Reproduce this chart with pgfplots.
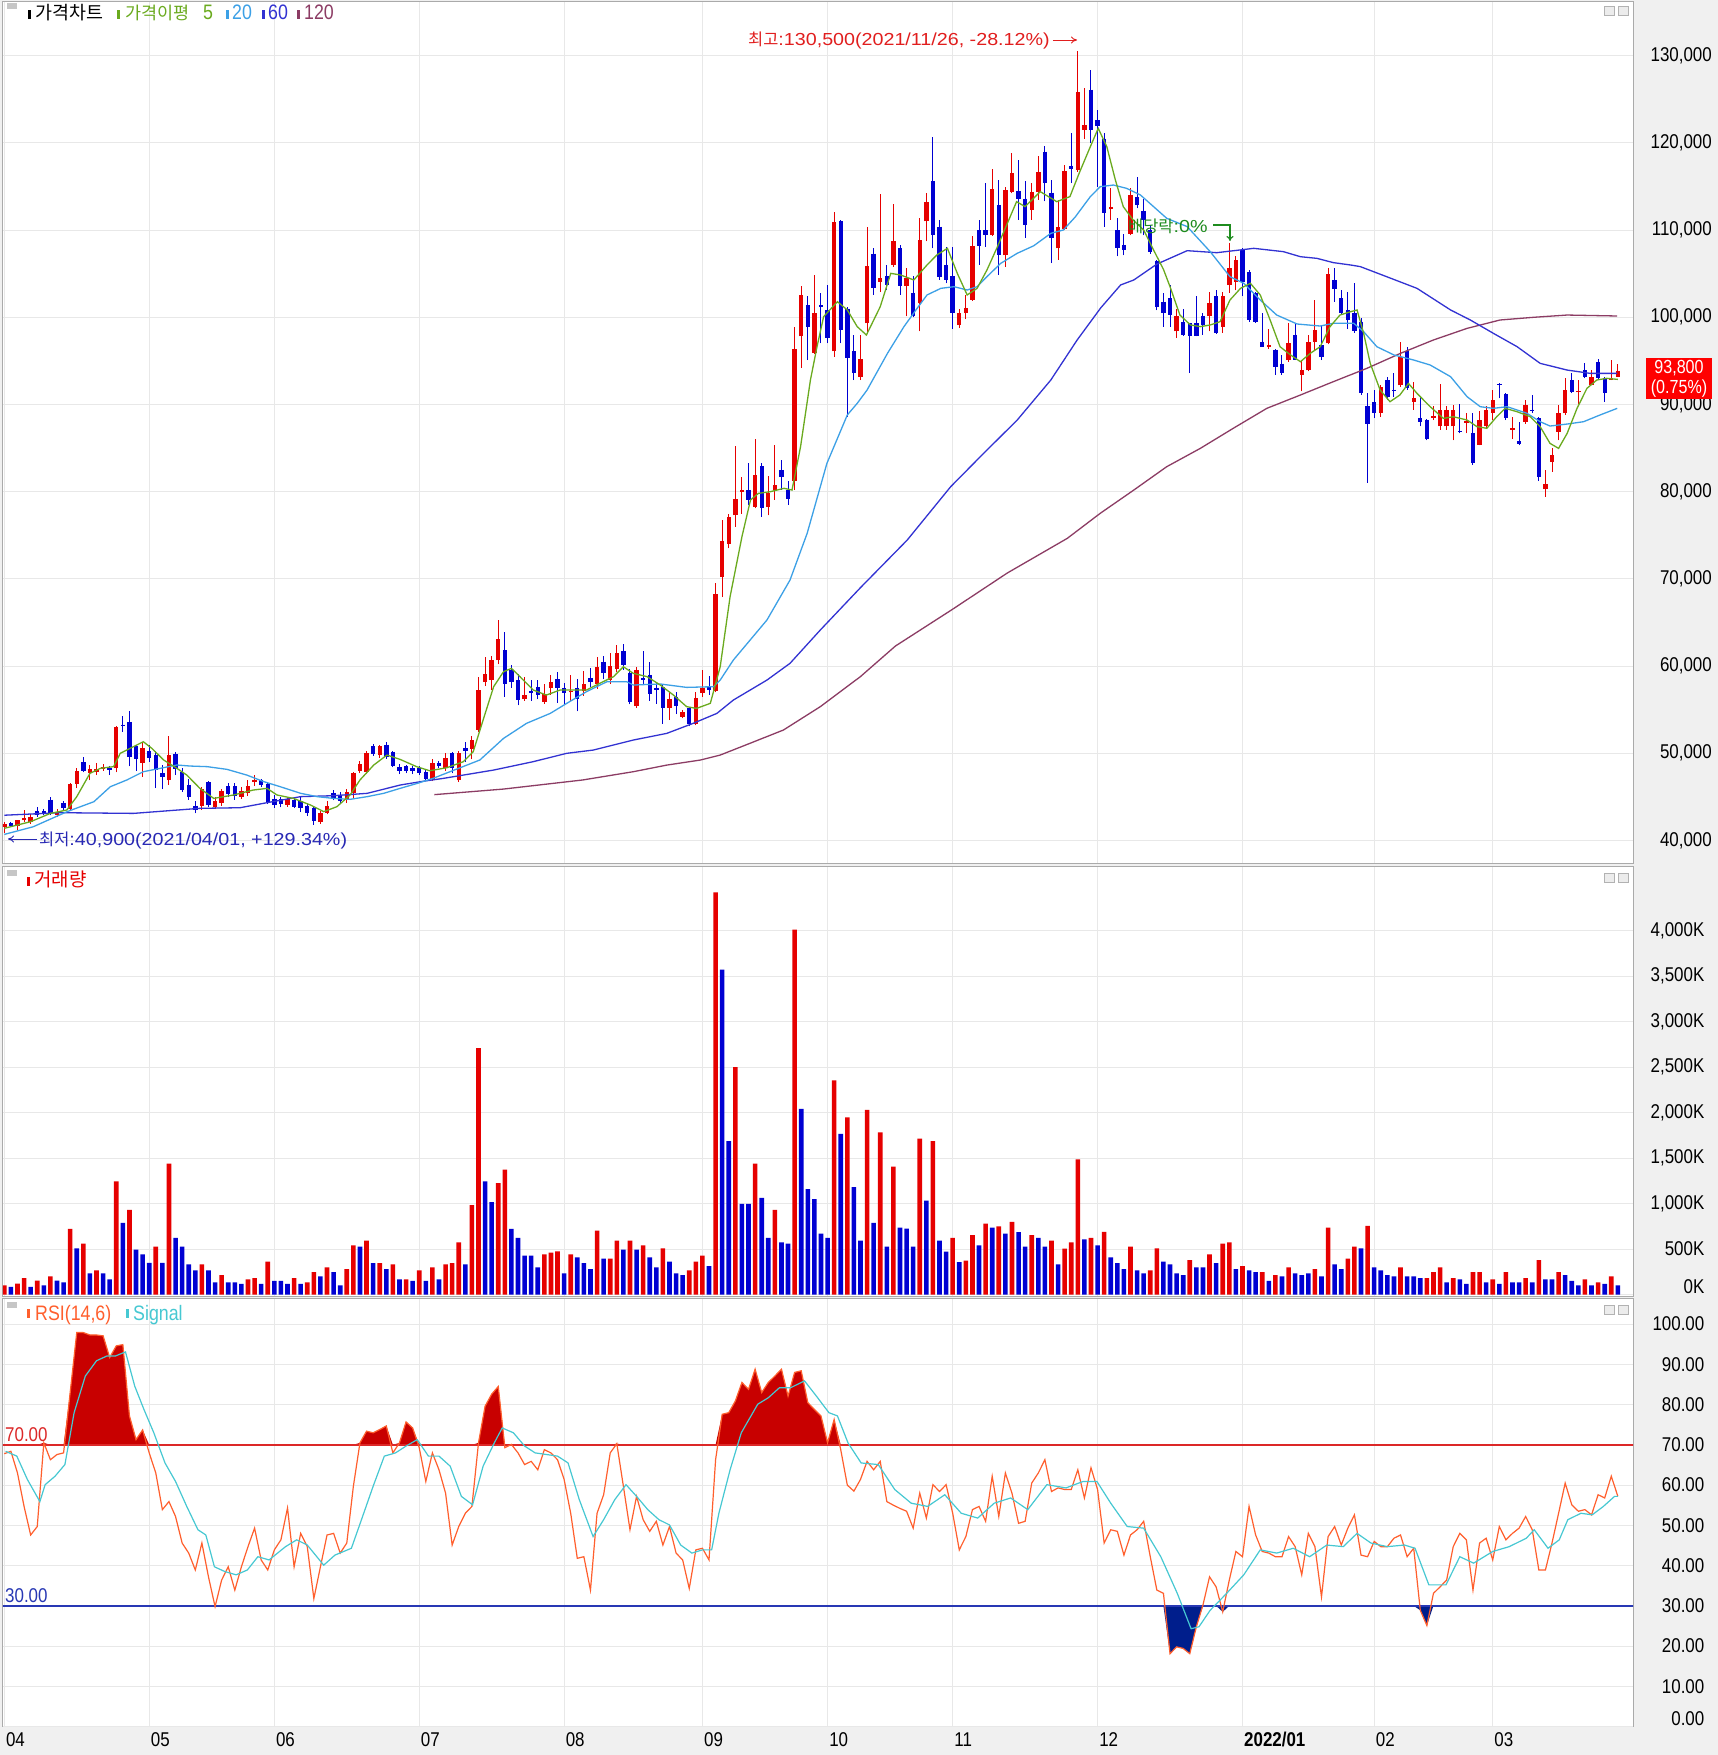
\documentclass[border=0pt]{standalone}
\usepackage{fontspec}
\usepackage{pgfplots}
\pgfplotsset{compat=1.18}
\usepackage{pgfplotstable}
\usetikzlibrary{arrows.meta}
\setmainfont{Liberation Sans}
\newfontfamily\kr{Noto Sans CJK KR}
\newfontfamily\num[FakeStretch=0.85]{Liberation Sans}
\newfontfamily\wide[FakeStretch=1.13]{Liberation Sans}
\newcommand\tf{\num\fontsize{20}{20}\selectfont}
\definecolor{cup}{RGB}{230,0,0}
\definecolor{cdn}{RGB}{0,0,210}
\definecolor{ma5}{RGB}{106,170,30}
\definecolor{ma20}{RGB}{60,160,230}
\definecolor{ma60}{RGB}{50,50,210}
\definecolor{ma120}{RGB}{140,60,100}
\definecolor{rsil}{RGB}{255,95,45}
\definecolor{sigl}{RGB}{70,200,210}
\definecolor{rsifup}{RGB}{200,0,0}
\definecolor{rsifdn}{RGB}{0,30,140}
\definecolor{lseventy}{RGB}{220,40,40}
\definecolor{lthirty}{RGB}{40,56,180}
\definecolor{gridc}{RGB}{232,232,232}
\definecolor{bgc}{RGB}{240,240,240}
\definecolor{framec}{RGB}{170,170,170}
\definecolor{annred}{RGB}{225,30,30}
\definecolor{annblue}{RGB}{40,40,180}
\definecolor{anngreen}{RGB}{30,140,30}

\pgfplotstableread{
i o h l c
0 41500 42100 40900 41900
1 42000 42100 41500 41700
2 41700 42400 41200 42300
3 42300 43500 42100 42600
4 42100 43000 41900 42700
5 43400 43800 42700 42900
6 43400 43600 42900 43100
7 44700 45000 42900 43100
8 42900 43600 42700 43300
9 44300 44500 43500 43700
10 43600 46600 43400 46500
11 46500 48300 46000 48000
12 49000 49600 47800 48000
13 47700 48700 46900 48200
14 47800 48900 47500 48200
15 48200 48800 48000 48400
16 48300 48500 47500 48100
17 48300 53100 47800 53000
18 53300 54300 52500 53100
19 53600 54800 48500 49600
20 50800 51000 48000 49400
21 48900 51300 47300 50600
22 50300 51000 49000 49500
23 49800 50300 46000 48100
24 47700 48700 45900 47300
25 46900 52000 46400 49800
26 49900 50100 47500 48200
27 47800 48300 45600 45800
28 46400 47000 44700 45000
29 44000 44500 43100 43500
30 44000 46100 43500 45900
31 46700 46800 43900 44100
32 43900 45000 43600 44500
33 44300 45900 44000 45700
34 46200 46600 45000 45300
35 46200 46600 44700 45100
36 45000 46100 44800 45700
37 45400 46900 45100 46200
38 46700 47500 46300 46900
39 46900 47100 46100 46400
40 46500 46700 44200 44400
41 44800 45200 43700 44100
42 44800 45000 43800 44200
43 44100 45000 43900 44800
44 44700 45000 43700 43900
45 44500 45100 43300 43700
46 44000 44200 42800 43100
47 43700 43800 41800 42200
48 42100 43400 41900 43200
49 43200 44500 43000 44000
50 45400 45800 44600 44800
51 45200 45600 44300 44500
52 44800 45900 44300 45600
53 45400 47900 44800 47700
54 48000 49100 47700 48800
55 47900 50300 47600 50000
56 50800 51100 49700 49900
57 49800 51000 49500 50800
58 51000 51300 49400 49600
59 50200 50300 48400 48500
60 48400 48800 47600 48000
61 48500 48700 47700 48000
62 48300 48600 47600 48000
63 48300 48500 47500 47700
64 47900 48100 46800 47100
65 47100 49300 46800 48900
66 48900 49100 48300 48500
67 48300 50000 48000 49500
68 50000 50100 47700 48300
69 46900 50300 46700 50000
70 50600 51300 49000 50300
71 50500 52000 49300 51500
72 52700 58800 52500 57300
73 58200 61000 57700 59100
74 58400 61200 57300 60700
75 60700 65300 60200 63100
76 61800 63900 56500 58000
77 59500 60100 57500 58200
78 58400 59100 55500 56100
79 56200 58700 56000 56700
80 57100 58400 56000 56900
81 57600 58400 56200 56700
82 55900 58000 55700 56800
83 57500 59000 56700 58200
84 58500 59300 55800 57500
85 57500 58100 55500 56900
86 57000 59000 56000 57200
87 57500 58500 54800 56200
88 57100 59400 56600 58000
89 58600 59800 57600 58200
90 58000 61000 57400 59900
91 60500 61200 58500 59200
92 58400 61500 58000 60000
93 59700 62400 59300 61500
94 61700 62500 59600 60100
95 59200 59700 55600 55900
96 55400 59900 55200 59500
97 58600 61700 58000 58400
98 59000 60500 56000 56800
99 57500 58200 55700 57300
100 57600 58000 53400 55200
101 55200 57000 53800 56200
102 56500 57000 54500 55400
103 54200 55000 54000 54700
104 55200 55300 53100 53400
105 53400 57000 53200 56400
106 56900 59600 56500 57500
107 57700 58900 56700 57300
108 57200 69500 57000 68300
109 70200 76800 67900 74300
110 74000 77500 73500 77100
111 77300 85200 76000 79200
112 80000 81700 77500 80200
113 80200 83300 78500 79100
114 78300 86100 78100 81900
115 82900 83300 77100 78100
116 78300 81800 77300 79800
117 80200 85400 79100 80800
118 82500 83600 80200 81700
119 80200 81200 78500 79200
120 81200 98900 80200 96400
121 97800 103600 94200 102600
122 101400 102400 95100 98900
123 95900 104900 95800 100500
124 101400 102800 97000 101200
125 100800 103700 97000 97600
126 96100 112100 95500 110900
127 111000 111200 97000 98500
128 101000 101200 88600 95300
129 96100 98000 92800 93600
130 93200 98000 92800 95200
131 99300 110400 98200 105900
132 107300 107900 102600 103400
133 104100 114100 102900 104500
134 104700 106000 103100 103700
135 106000 113000 105800 108700
136 107900 108300 102600 103600
137 103600 105700 100100 104500
138 102800 104700 100000 100100
139 101600 111400 98400 108900
140 111000 114200 108700 113200
141 115600 120700 107900 109400
142 110400 111200 104300 104600
143 106000 108100 103900 104300
144 104700 108100 98700 100500
145 99100 101000 98800 100500
146 100500 102600 99800 101100
147 102000 109300 101900 108200
148 110000 111200 106000 108200
149 110000 115400 108100 109400
150 109400 117000 109300 114700
151 112900 115800 104900 107100
152 107100 115000 105800 114600
153 114400 118800 114200 116600
154 114500 118000 111200 113600
155 113600 115600 109100 110600
156 112300 115400 111200 114400
157 114400 118500 113500 116700
158 119000 119600 113300 115400
159 114300 115800 106200 109100
160 107900 113500 106600 110400
161 110100 117500 110000 116800
162 117400 121100 115400 117000
163 116900 130500 116700 125800
164 121500 126300 120500 122100
165 126100 128400 120000 121500
166 122600 123800 115000 121900
167 120500 121100 110400 112000
168 112400 114800 111200 112600
169 110000 111400 107000 108000
170 108300 109600 107100 107700
171 109600 114800 109400 114000
172 113800 116100 112500 112900
173 112200 113600 109400 111200
174 110000 110600 107300 107500
175 106400 106600 100800 101200
176 101800 102800 98900 100500
177 102200 103700 98900 100300
178 98400 101000 97600 100100
179 99500 101000 97900 98000
180 99300 99400 93600 97800
181 99300 102400 97800 97850
182 100100 100500 98000 99100
183 100100 102900 98400 101600
184 102400 103100 98100 98200
185 98900 102900 98200 102400
186 103700 108500 102800 105600
187 104100 107000 103100 106600
188 107700 107900 102400 104100
189 105200 105400 99500 99700
190 102800 102900 99400 99500
191 97200 100500 96600 96650
192 96600 98700 96400 96800
193 96300 96400 93400 94300
194 94700 95700 93400 93600
195 95100 99300 94900 97000
196 98000 99300 95100 95150
197 93400 95100 91500 93900
198 93900 98000 93800 97200
199 97200 102000 96100 98500
200 96800 99100 95100 95500
201 97000 105600 96900 105000
202 104300 105600 101800 103300
203 102200 103100 100300 100500
204 100800 102900 98700 99700
205 100500 103900 98200 98400
206 99500 99900 91100 91300
207 89800 91300 81000 87800
208 90300 91700 88400 89000
209 89000 92200 88600 92000
210 92800 93200 90500 90900
211 91700 93600 90900 91500
212 92200 97200 92000 95500
213 96100 96600 91700 91900
214 90300 92600 89400 90700
215 88400 90900 87500 88000
216 88200 88300 85900 86000
217 88500 89800 88200 88700
218 87500 92400 87100 89400
219 87500 89800 87100 89400
220 87500 89900 85900 89400
221 87000 90100 86700 86800
222 87900 89000 86700 88100
223 86700 89000 83100 83300
224 85400 89200 85300 88200
225 87500 89800 87300 89400
226 89000 91700 88200 90500
227 92400 92500 90700 92200
228 91200 91300 88200 88400
229 87100 88600 86100 87300
230 85800 88000 85300 85500
231 88000 90500 87800 89900
232 89400 91100 89000 89200
233 88400 88600 81200 81700
234 80300 82500 79400 80900
235 83400 85000 82300 84200
236 86900 89900 85900 89000
237 89000 93000 88800 91700
238 92800 93600 91300 91400
239 91400 92800 90100 91600
240 93900 94800 93000 93200
241 92200 94000 92200 93200
242 94900 95200 92800 93000
243 93000 93100 90300 91300
244 92800 95100 92800 93000
245 93200 94700 93200 93800
}\price

\pgfplotstableread{
i v
0 41400
4 42160
7 43110
9.5 43500
11 45030
13 47700
14.6 48280
16.6 48470
17.6 50000
19.6 50760
21.1 51330
22.4 50570
24.2 49230
26.2 48280
27.7 47510
29.7 45980
31.8 44830
34.8 45220
37.8 45790
39.9 45980
41.4 45220
43.9 44830
46.5 44070
48.5 43310
50.5 43880
52.5 45220
54 46940
56.1 48660
58.1 49800
60.1 49300
62.6 48470
64.6 48000
67.2 48350
69.7 49040
71.2 50190
72.7 53820
74.3 57640
75.8 59360
77 59740
78.3 58790
80.3 57260
82.3 56680
84.4 57260
86.4 57260
88.4 57260
90.4 58020
92.5 58790
94 59930
95.5 59170
97.6 58790
99.6 57830
101.6 56680
103.6 55350
105.1 55150
107.2 55730
108.7 59930
110.2 67960
112 74840
113.3 79050
114.5 79810
116.3 80000
118.4 80390
119.6 80190
120.9 85160
122.4 92810
123.4 96630
124.4 100070
126.5 101790
128 100840
129.5 98930
130.9 97970
133 101220
134.6 105040
136.1 104850
138.1 104280
140.1 106000
141.6 107150
143.2 107910
144.7 105040
146.2 102560
147.7 103320
149.2 105420
150.8 108100
152.3 110780
153.7 113260
155 112690
157.3 114410
159.8 113260
161.8 113840
163.3 116700
164.9 119570
166.1 121670
167.4 119570
168.7 115750
169.9 112690
171.4 111160
173 110010
174.5 107720
176 105500
177 103510
178.5 100260
180.1 99120
181.6 98930
183.1 99120
184.6 99500
186.1 101980
187.7 103320
189.2 103900
190.7 102560
192.2 99690
193.7 96630
195.3 95680
196.8 94910
198.3 95870
199.8 96630
201.3 98930
202.8 100260
204.4 100640
205.4 100840
206.4 98160
207.4 94720
208.9 91660
210.4 90320
211.9 91090
213.2 92420
214.5 91280
216.5 89750
218.5 88410
220 88600
222.1 88220
223.6 87460
225.1 87270
226.6 88600
227.9 89560
229.7 89170
231.7 88600
233.2 87460
234.7 85540
236 84970
237.3 86690
238.8 89560
240.3 91850
241.8 92810
243.3 93000
245 92880
}\mafive

\pgfplotstableread{
i v
0 40700
4.4 41580
9.5 43300
13.6 44450
16.1 46170
18.6 46940
21.1 47890
23.7 48280
26.2 48660
28.2 48540
30.8 48470
33.8 48160
36.8 47510
39.4 46750
41.9 46170
45 45410
47.5 45030
50 44830
52.5 44720
55.1 45030
57.6 45410
60.1 45980
62.7 46550
65.1 47130
72.2 49230
75.8 51710
79.3 53440
82.9 54580
85.4 55730
88.4 57070
91.5 58210
94.5 58210
95.5 57830
99.6 57950
103.6 57560
107.7 57640
108.7 58400
110.7 60700
115.8 65290
119.3 69870
121.9 75220
124.9 83250
128 88800
129.5 90130
131 91660
134.1 95870
136.6 98930
138.6 101030
140.1 102560
142.2 103320
144.2 103510
146.2 103130
147.7 103510
149.2 104660
151.3 106190
153.8 107340
156.3 108200
158.9 109630
160.8 110010
162.6 111500
164.9 113840
166.4 114980
168.4 115170
170.4 114790
172.5 114030
174.5 112690
176.5 111350
179.6 110400
183.1 107530
186.1 104660
188.2 103900
190.7 101980
193.2 100260
196.3 99230
199.8 99000
201.8 99310
204.9 99310
206.4 98350
208.4 96630
211 95680
214 95100
216.5 94530
219.6 93190
222.1 90900
224.1 89750
226.1 89560
228.2 89750
231.2 88990
233.2 88030
234.7 87530
237.3 87760
239.8 88030
242.3 88800
244.9 89560
}\matwenty

\pgfplotstableread{
i v
0 42900
8.5 43190
19.6 43110
29.7 43690
35.8 43760
39.9 44340
45 45030
50 45140
55.1 45410
60.1 46360
63.2 46750
66.7 47130
74.3 48080
80.3 49040
85.4 50000
89.4 50370
95.5 51520
100.6 52290
104.6 53440
108.2 54580
110.7 56110
115.8 58400
119.3 60320
123.9 64140
130 69000
137.1 74460
143.7 80580
148.7 84400
153.8 88220
158.9 92810
162.9 97400
166.5 101100
169.5 103710
171.5 104280
175 106100
179.6 107640
184.1 107410
187.6 107720
189.7 107910
194.2 107530
196.8 106950
199.3 106760
201.8 106270
204.4 106000
205.9 105810
209.4 104800
214.5 103320
219.6 100840
222.6 99690
226.1 98160
229.7 96630
233.2 94720
237.3 93950
240.8 93570
244.9 93570
}\masixty

\pgfplotstableread{
i v
65.3 45260
75.8 45900
87.8 46940
95.5 47890
100.6 48650
105.7 49230
108.7 49800
113.2 51140
118.3 52670
123.9 55350
130 58800
135.3 62300
143.8 66430
152.3 70680
161.4 74650
166.4 77520
171.5 80190
176.5 82870
181.6 84970
186.6 87270
191.7 89560
196.8 91090
201.8 92620
206.9 94150
212 95870
217 97400
222.1 98730
227.1 99690
232.2 100000
237.3 100260
244.9 100150
}\maonetwenty

\pgfplotstableread{
i v d
0 101 1
1 83 0
2 120 1
3 181 1
4 83 0
5 152 1
6 101 0
7 199 1
8 152 0
9 134 0
10 721 1
11 507 0
12 558 1
13 232 0
14 264 1
15 232 0
16 167 0
17 1243 1
18 786 0
19 931 1
20 493 0
21 442 0
22 348 0
23 525 1
24 348 0
25 1438 1
26 623 0
27 525 0
28 330 0
29 264 0
30 330 1
31 264 0
32 134 0
33 214 1
34 134 0
35 134 0
36 116 0
37 167 1
38 181 1
39 116 0
40 362 1
41 149 0
42 149 0
43 116 0
44 181 1
45 116 0
46 134 1
47 246 1
48 199 0
49 297 1
50 246 0
51 101 0
52 279 1
53 540 1
54 525 0
55 591 1
56 344 0
57 344 1
58 279 0
59 330 1
60 167 0
61 167 1
62 149 0
63 264 1
64 149 0
65 297 1
66 167 0
67 330 1
68 344 1
69 572 1
70 330 0
71 982 1
72 2708 1
73 1243 0
74 1014 0
75 1225 1
76 1373 1
77 721 0
78 623 0
79 428 0
80 428 0
81 297 0
82 442 1
83 460 1
84 475 1
85 232 0
86 442 1
87 409 0
88 344 0
89 279 0
90 703 1
91 395 0
92 395 1
93 591 1
94 493 0
95 591 1
96 493 0
97 540 1
98 409 0
99 297 0
100 507 1
101 362 0
102 232 0
103 214 0
104 264 1
105 362 1
106 428 1
107 312 0
108 4418 1
109 3571 0
110 1685 0
111 2499 1
112 996 0
113 996 0
114 1438 1
115 1062 0
116 623 0
117 931 1
118 572 0
119 558 0
120 4011 1
121 2040 0
122 1159 0
123 1047 0
124 670 0
125 623 0
126 2352 1
127 1764 0
128 1946 1
129 1180 0
130 591 0
131 2029 1
132 786 0
133 1783 1
134 525 0
135 1406 1
136 736 0
137 725 0
138 525 0
139 1714 1
140 1033 0
141 1685 1
142 591 0
143 471 0
144 623 1
145 355 0
146 373 1
147 652 1
148 540 0
149 779 1
150 736 0
151 750 1
152 670 0
153 797 1
154 685 0
155 525 0
156 652 1
157 623 0
158 525 0
159 591 1
160 330 0
161 504 1
162 572 1
163 1485 1
164 605 0
165 623 1
166 540 0
167 688 1
168 409 0
169 344 0
170 279 0
171 525 1
172 264 0
173 232 0
174 264 1
175 507 1
176 362 0
177 330 0
178 232 0
179 214 0
180 377 1
181 297 0
182 297 0
183 442 1
184 344 0
185 558 1
186 572 1
187 279 0
188 312 1
189 264 0
190 246 0
191 246 1
192 149 0
193 214 1
194 199 0
195 297 1
196 232 0
197 214 0
198 232 0
199 279 1
200 199 0
201 736 1
202 330 0
203 279 0
204 395 1
205 525 1
206 507 0
207 754 1
208 297 0
209 264 0
210 214 0
211 199 0
212 297 1
213 199 0
214 199 0
215 181 0
216 181 1
217 246 1
218 297 1
219 134 0
220 181 1
221 167 0
222 116 0
223 246 1
224 246 1
225 134 0
226 167 1
227 116 0
228 246 1
229 134 0
230 134 0
231 181 1
232 134 0
233 377 1
234 167 0
235 167 0
236 246 1
237 214 0
238 149 0
239 101 0
240 167 1
241 101 0
242 134 1
243 116 0
244 199 1
245 101 0
}\vol

\pgfplotstableread{
i r
0 67.8
1 68.4
2 63.0
3 54.7
4 47.6
5 49.7
6 70.5
7 66.3
8 67.6
9 68.0
10 83.0
11 97.9
12 97.9
13 97.3
14 97.3
15 97.1
16 91.7
17 94.6
18 94.9
19 77.2
20 71.3
21 73.7
22 68.0
23 63.0
24 53.9
25 55.9
26 52.2
27 45.6
28 43.1
29 38.9
30 45.6
31 37.2
32 29.8
33 36.4
34 39.7
35 33.9
36 39.7
37 44.7
38 49.3
39 41.4
40 38.9
41 43.9
42 46.4
43 54.3
44 39.7
45 48.0
46 44.7
47 31.8
48 39.7
49 47.6
50 48.0
51 43.1
52 45.6
53 59.7
54 70.5
55 73.4
56 73.0
57 73.8
58 74.7
59 68.0
60 70.5
61 75.7
62 74.2
63 69.3
64 60.9
65 68.0
66 63.8
67 58.0
68 45.1
69 49.7
70 53.0
71 54.7
72 70.5
73 79.6
74 82.6
75 84.5
76 69.3
77 70.1
78 68.0
79 65.1
80 65.9
81 63.8
82 68.8
83 68.0
84 66.3
85 61.4
86 53.0
87 41.8
88 42.2
89 33.9
90 53.0
91 57.6
92 68.0
93 70.3
94 59.7
95 48.9
96 57.2
97 51.4
98 48.5
99 51.0
100 45.1
101 49.7
102 43.1
103 41.4
104 34.3
105 43.9
106 44.3
107 41.4
108 66.3
109 77.6
110 78.0
111 80.9
112 85.5
113 83.8
114 88.8
115 83.0
116 85.5
117 87.1
118 88.8
119 82.1
120 88.0
121 88.4
122 80.5
123 78.8
124 77.2
125 70.5
126 76.3
127 68.8
128 60.0
129 58.5
130 61.4
131 65.9
132 63.8
133 65.9
134 55.9
135 55.0
136 54.2
137 53.5
138 49.3
139 58.0
140 51.8
141 60.1
142 58.4
143 60.1
144 53.0
145 43.9
146 47.2
147 53.9
148 54.7
149 51.0
150 62.2
151 52.2
152 63.0
153 58.0
154 50.5
155 51.0
156 60.5
157 63.0
158 66.3
159 58.4
160 59.3
161 58.9
162 58.9
163 63.8
164 56.8
165 64.3
166 58.9
167 45.6
168 48.9
169 48.5
170 42.6
171 47.6
172 48.9
173 51.0
174 42.2
175 33.9
176 33.1
177 18.1
178 19.8
179 19.4
180 18.1
181 24.8
182 30.2
183 37.2
184 34.7
185 28.5
186 36.4
187 43.5
188 42.2
189 54.7
190 47.6
191 43.5
192 43.1
193 42.2
194 42.2
195 47.2
196 44.7
197 37.7
198 48.0
199 44.7
200 32.2
201 47.2
202 49.7
203 45.1
204 49.3
205 52.6
206 42.6
207 42.2
208 46.0
209 44.7
210 44.7
211 46.8
212 47.6
213 42.2
214 44.3
215 28.9
216 25.1
217 33.1
218 34.7
219 36.4
220 44.7
221 48.0
222 46.4
223 33.9
224 45.6
225 46.8
226 41.4
227 49.7
228 46.4
229 48.0
230 49.3
231 52.2
232 48.9
233 38.9
234 38.9
235 45.6
236 53.0
237 60.5
238 55.1
239 53.5
240 53.9
241 52.6
242 57.6
243 56.8
244 62.2
245 57.2
}\rsitab

\pgfplotstableread{
i s
0.2 68.4
1.9 67.2
3.5 61.4
5.4 55.9
6.2 60.1
7.7 62.2
9.2 65.1
10.6 78.0
12.3 87.1
14.0 90.9
15.6 92.1
16.9 92.1
18.4 93.1
19.8 84.6
21.2 78.8
22.7 73.0
24.4 65.5
26.0 60.9
27.7 54.7
29.4 48.9
30.6 47.6
31.9 39.7
33.5 38.5
35.2 37.7
36.9 38.9
38.5 42.2
40.2 41.4
42.7 44.7
44.4 46.4
46.0 45.1
48.5 40.1
50.2 42.6
52.7 44.3
54.4 52.2
56.0 59.7
57.7 67.2
59.4 68.0
61.0 69.7
62.7 71.3
64.4 67.2
66.0 67.2
67.7 64.7
69.4 57.2
71.1 55.1
72.7 64.7
74.4 70.5
75.6 74.2
77.3 73.0
79.0 69.7
80.6 68.0
82.3 67.6
84.0 67.2
85.6 65.5
87.3 56.4
89.4 47.2
91.0 51.4
92.7 56.4
94.4 60.1
96.0 57.2
97.7 53.9
99.4 51.4
101.0 50.1
102.7 45.1
104.4 43.1
106.0 43.9
107.4 43.9
108.5 53.0
110.2 63.8
111.9 73.0
114.4 80.1
116.0 81.7
117.7 84.2
119.4 84.2
121.5 85.9
123.5 81.7
125.2 78.0
126.5 77.2
128.1 70.5
130.1 65.5
132.7 65.1
135.2 58.9
137.7 55.5
140.2 54.7
142.8 57.6
145.3 53.0
147.8 51.8
150.3 55.5
152.8 56.8
155.4 53.9
158.3 60.1
161.2 59.3
163.8 60.9
165.9 60.9
168.0 55.5
170.5 49.7
173.0 49.3
175.6 42.2
178.1 33.1
180.2 24.3
181.4 24.8
183.1 28.9
185.6 33.1
188.2 37.7
190.7 43.9
193.2 43.1
195.7 44.3
198.2 42.2
200.8 45.1
203.3 44.7
205.4 48.0
207.5 45.6
210.0 44.7
212.6 45.1
214.2 44.3
216.3 35.2
218.9 35.2
221.0 42.2
223.1 40.6
226.0 43.5
228.5 44.7
231.1 46.8
232.3 48.9
234.4 44.3
236.1 46.4
237.4 51.4
239.4 53.0
241.1 52.6
242.8 54.7
244.5 57.2
245 57.2
}\sigtab

\pgfplotsset{
 panel/.style={
  scale only axis, width=1630bp, xmin=-0.2, xmax=247.3,
  anchor=south west,
  axis background/.style={fill=white},
  axis line style={draw=framec, line width=1bp},
  xtick={0,22,41,63,85,106,125,144,166,188,208,226},
  xticklabels={},
  xmajorgrids, ymajorgrids,
  major grid style={draw=gridc, line width=1bp},
  major tick length=0pt,
  tick style={draw=none},
  yticklabel pos=right,
  yticklabel style={anchor=east, inner sep=0pt, font=\tf},
  scaled y ticks=false,
 },
 upc/.style={restrict expr to domain={\thisrow{c}-\thisrow{o}}{0:1000000}},
 dnc/.style={restrict expr to domain={\thisrow{c}-\thisrow{o}}{-1000000:-1}},
}

\begin{document}
\begin{tikzpicture}
\fill[bgc] (0,0) rectangle (1718bp,-1755bp);
\path[use as bounding box] (0,0) rectangle (1718bp,-1755bp);

% ---------- price panel ----------
\begin{axis}[panel, at={(3bp,-863bp)}, height=861bp, ymin=37420, ymax=136158,
  ytick={40000,50000,60000,70000,80000,90000,100000,110000,120000,130000},
  yticklabels={{40,000},{50,000},{60,000},{70,000},{80,000},{90,000},{100,000},{110,000},{120,000},{130,000}},
  yticklabel style={xshift=79bp}]
\addplot[cup, line width=1bp, upc, quiver={u=0, v=\thisrow{h}-\thisrow{l}}] table[x=i, y=l] {\price};
\addplot[cup, line width=4.4bp, upc, quiver={u=0, v=\thisrow{c}-\thisrow{o}}] table[x=i, y=o] {\price};
\addplot[cdn, line width=1bp, dnc, quiver={u=0, v=\thisrow{h}-\thisrow{l}}] table[x=i, y=l] {\price};
\addplot[cdn, line width=4.4bp, dnc, quiver={u=0, v=\thisrow{c}-\thisrow{o}}] table[x=i, y=o] {\price};
\addplot[ma120, line width=1.3bp, no marks] table[x=i, y=v] {\maonetwenty};
\addplot[ma60, line width=1.3bp, no marks] table[x=i, y=v] {\masixty};
\addplot[ma20, line width=1.3bp, no marks] table[x=i, y=v] {\matwenty};
\addplot[ma5, line width=1.3bp, no marks] table[x=i, y=v] {\mafive};
\end{axis}

% ---------- volume panel ----------
\begin{axis}[panel, at={(3bp,-1296bp)}, height=430bp, ymin=-16.5, ymax=4709,
  ytick={500,1000,1500,2000,2500,3000,3500,4000},
  yticklabels={500K,{1,000K},{1,500K},{2,000K},{2,500K},{3,000K},{3,500K},{4,000K}},
  yticklabel style={xshift=71.5bp},
  extra y ticks={0}, extra y tick labels={0K},
  extra y tick style={yticklabel style={yshift=8bp}}]
\addplot[ybar, bar width=4.6bp, bar shift=0pt, fill=cup, draw=none,
  restrict expr to domain={\thisrow{d}}{0.5:1.5}] table[x=i, y=v] {\vol};
\addplot[ybar, bar width=4.6bp, bar shift=0pt, fill=cdn, draw=none,
  restrict expr to domain={\thisrow{d}}{-0.5:0.5}] table[x=i, y=v] {\vol};
\end{axis}

% ---------- RSI panel ----------
\begin{axis}[panel, at={(3bp,-1726.5bp)}, height=428.5bp, ymin=0, ymax=106.49,
  ytick={10,20,30,40,50,60,70,80,90,100},
  yticklabels={10.00,20.00,30.00,40.00,50.00,60.00,70.00,80.00,90.00,100.00},
  yticklabel style={xshift=71.5bp},
  extra y ticks={0}, extra y tick labels={0.00},
  extra y tick style={yticklabel style={yshift=8bp}},
  xticklabels={04,05,06,07,08,09,10,11,12,\textbf{2022/01},02,03},
  xticklabel style={anchor=west, inner sep=0pt, xshift=1.5bp, yshift=-13bp, font=\tf}]
\addplot[fill=rsifup, draw=none] table[x=i, y expr={max(\thisrow{r},70)}] {\rsitab} -- cycle;
\addplot[fill=rsifdn, draw=none] table[x=i, y expr={min(\thisrow{r},30)}] {\rsitab} -- cycle;
\addplot[lseventy, line width=1.6bp] coordinates {(-1,70) (248,70)};
\addplot[lthirty, line width=1.6bp] coordinates {(-1,30) (248,30)};
\addplot[rsil, line width=1.2bp, no marks] table[x=i, y=r] {\rsitab};
\addplot[sigl, line width=1.2bp, no marks] table[x=i, y=s] {\sigtab};
\end{axis}

% ---------- texts and decorations ----------
\begin{scope}[x=1bp, y=-1bp]
\foreach \yy in {3,870,1302}{
  \fill[gray!45] (7,\yy) rectangle (17,\yy+6);
  \draw[gray!60, fill=gray!15] (1604,\yy+3) rectangle (1614,\yy+12);
  \draw[gray!60, fill=gray!15] (1618,\yy+3) rectangle (1628,\yy+12);
}
\fill[black] (28,10) rectangle (30.5,18.5);
\node[anchor=base west, inner sep=0] at (35,19.5) {\kr\fontsize{18.5}{18.5}\selectfont 가격차트};
\fill[ma5] (117,10) rectangle (119.5,18.5);
\node[anchor=base west, inner sep=0, text=ma5] at (125,19.5) {\kr\fontsize{17.5}{17.5}\selectfont 가격이평};
\node[anchor=base west, inner sep=0, text=ma5] at (203,19.5) {\num\fontsize{21}{21}\selectfont 5};
\fill[ma20] (226,10) rectangle (228.5,18.5);
\node[anchor=base west, inner sep=0, text=ma20] at (232,19.5) {\num\fontsize{21}{21}\selectfont 20};
\fill[ma60] (262,10) rectangle (264.5,18.5);
\node[anchor=base west, inner sep=0, text=ma60] at (268,19.5) {\num\fontsize{21}{21}\selectfont 60};
\fill[ma120] (297,10) rectangle (299.5,18.5);
\node[anchor=base west, inner sep=0, text=ma120] at (304,19.5) {\num\fontsize{21}{21}\selectfont 120};
\fill[cup] (27,877) rectangle (29.5,885.5);
\node[anchor=base west, inner sep=0, text=cup] at (34,886.5) {\kr\fontsize{19}{19}\selectfont 거래량};
\fill[rsil] (27,1309) rectangle (29.5,1318);
\node[anchor=base west, inner sep=0, text=rsil] at (35,1320.5) {\num\fontsize{21}{21}\selectfont RSI(14,6)};
\fill[sigl] (126,1309) rectangle (128.5,1318);
\node[anchor=base west, inner sep=0, text=sigl] at (133,1320.5) {\num\fontsize{21}{21}\selectfont Signal};
\node[anchor=base west, inner sep=0, text=lseventy] at (5,1441.5) {\tf 70.00};
\node[anchor=base west, inner sep=0, text=lthirty] at (5,1602) {\tf 30.00};
\node[anchor=base west, inner sep=0, text=annred] (hi) at (748,45.5) {{\kr\fontsize{16.5}{16.5}\selectfont 최고}\wide\fontsize{17.5}{17.5}\selectfont :130,500(2021/11/26, -28.12\%)};
\coordinate (hiend) at (1077,40);
\draw[annred, line width=1bp, -{To[length=6bp,width=7bp]}] ([xshift=3bp]hi.east |- hiend) -- (hiend);
\draw[annblue, line width=1bp, -{To[length=6bp,width=7bp]}] (37,839) -- (8,839);
\node[anchor=base west, inner sep=0, text=annblue] at (39,845.5) {{\kr\fontsize{16.5}{16.5}\selectfont 최저}\wide\fontsize{17.5}{17.5}\selectfont :40,900(2021/04/01, +129.34\%)};
\node[anchor=base west, inner sep=0, text=anngreen] at (1128,232) {{\kr\fontsize{16.5}{16.5}\selectfont 배당락}\wide\fontsize{17.5}{17.5}\selectfont :0\%};
\draw[anngreen, line width=1.2bp, -{To[length=5bp,width=7bp]}] (1213,225) -- (1230,225) -- (1230,241);
\fill[red] (1646,358) rectangle (1712,399);
\node[text=white, inner sep=0] at (1679,368.5) {\num\fontsize{19}{19}\selectfont 93,800};
\node[text=white, inner sep=0] at (1679,388.5) {\num\fontsize{19}{19}\selectfont (0.75\%)};
\end{scope}
\end{tikzpicture}
\end{document}
